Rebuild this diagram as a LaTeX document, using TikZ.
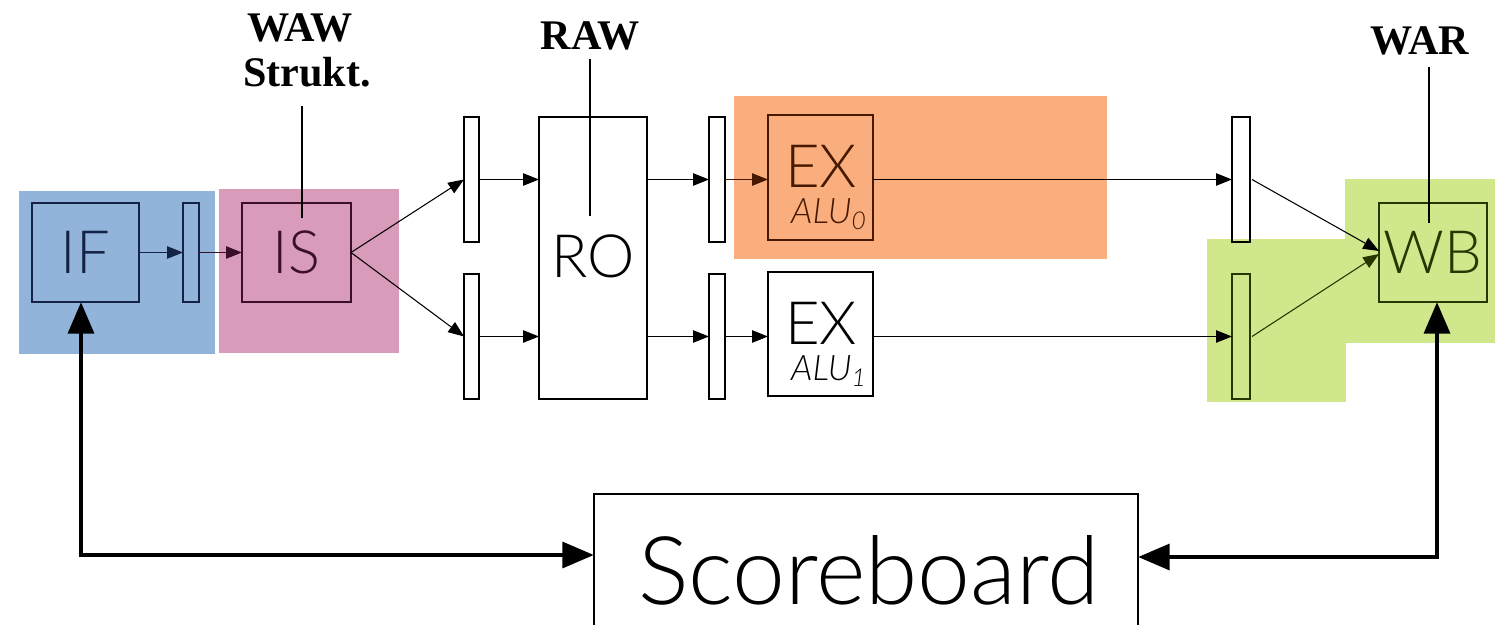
\documentclass[tikz,border=0pt]{standalone}
\usepackage{fontspec}
\usetikzlibrary{arrows.meta}
\IfFontExistsTF{Lato Light Italic}{%
  \newfontfamily\boxfont{Lato}[UprightFont=* Light, ItalicFont=* Light Italic]}{%
  \newfontfamily\boxfont{Lato}}
\newfontfamily\labfont{Liberation Serif}
\definecolor{bluebg}{RGB}{146,179,218}
\definecolor{pinkbg}{RGB}{216,155,185}
\definecolor{orangebg}{RGB}{250,174,126}
\definecolor{greenbg}{RGB}{208,231,140}
\definecolor{ifcol}{RGB}{20,35,70}
\definecolor{iscol}{RGB}{60,15,40}
\definecolor{excol}{RGB}{70,25,0}
\definecolor{wbcol}{RGB}{40,55,0}
\begin{document}
\begin{tikzpicture}[x=0.02cm,y=-0.02cm,
  blk/.style={draw, line width=0.6pt, inner sep=0pt, outer sep=0pt},
  sz/.style 2 args={minimum width=#1*0.02cm, minimum height=#2*0.02cm},
  big/.style={font=\boxfont\fontsize{34}{34}\selectfont},
  bigt/.style={font=\boxfont\fontsize{34}{34}\selectfont, inner sep=0pt},
  alu/.style={font=\boxfont\itshape\fontsize{20}{20}\selectfont, inner sep=0pt},
  lab/.style={font=\labfont\bfseries\fontsize{24}{24}\selectfont, inner sep=0pt},
  arr/.style={line width=0.6pt, -{Triangle[length=9pt,width=7pt]}},
  ann/.style={line width=0.9pt},
  bigarr/.style={line width=2.8pt, {Triangle[length=18pt,width=14.5pt]}-{Triangle[length=18pt,width=14.5pt]}}
]
\useasboundingbox (0,0) rectangle (1495,625);
% coloured backgrounds
\fill[bluebg] (19,191) rectangle (215,354);
\fill[pinkbg] (219,189) rectangle (399,353);
\fill[orangebg] (734,96) rectangle (1107,259);
\fill[greenbg] (1207,239) rectangle (1346,402);
\fill[greenbg] (1345,179) rectangle (1495,343);

% boxes
\node[blk, sz={107}{99}, draw=ifcol, text=ifcol, big] (IF) at (85.5,252.5) {IF};
\node[blk, sz={16}{99}, draw=ifcol] (reg0) at (191,252.5) {};
\node[blk, sz={109}{99}, draw=iscol, text=iscol, big] (IS) at (296.5,252.5) {IS};
\node[blk, sz={15}{125}] (r1u) at (471.5,179.5) {};
\node[blk, sz={15}{125}] (r1l) at (471.5,336.5) {};
\node[blk, sz={108}{282}] (RO) at (593,258) {};
\node[bigt] (rotext) at (593,256) {RO};
\node[blk, sz={16}{125}] (r2u) at (717,179.5) {};
\node[blk, sz={16}{125}] (r2l) at (717,336.5) {};
\node[blk, sz={105}{125}, draw=excol] (EX0) at (820.5,177.5) {};
\node[bigt, text=excol] (ex0t) at (821,166) {EX};
\node[alu, text=excol] (alu0) at (829,214) {ALU\textsubscript{0}};
\node[blk, sz={105}{124}] (EX1) at (820.5,334) {};
\node[bigt] (ex1t) at (821,323) {EX};
\node[alu] (alu1) at (829,371) {ALU\textsubscript{1}};
\node[blk, sz={18}{125}] (r3u) at (1241,179.5) {};
\node[blk, sz={18}{125}, draw=wbcol] (r3l) at (1241,336.5) {};
\node[blk, sz={108}{99}, draw=wbcol, text=wbcol, big] (WB) at (1433,252.5) {WB};
\node[blk, sz={544}{146}] (SB) at (866,567) {};
\node[font=\boxfont\fontsize{54}{54}\selectfont, inner sep=0pt] (sbt) at (869,570) {Scoreboard};

% hazard labels
\node[lab] (waw) at (300,28) {WAW};
\node[lab] (strukt) at (307,72) {Strukt.};
\node[lab] (raw) at (590,36) {RAW};
\node[lab] (war) at (1420,41) {WAR};
\coordinate (wawa) at (302,106);
\coordinate (wawb) at (302,218);
\coordinate (rawa) at (590,59);
\coordinate (rawb) at (590,216);
\coordinate (wara) at (1429,67);
\coordinate (warb) at (1429,223);
\draw[ann] (wawa) -- (wawb);
\draw[ann] (rawa) -- (rawb);
\draw[ann] (wara) -- (warb);

% thin connectors
\draw[arr, draw=ifcol, fill=ifcol] (IF.east) -- (reg0.west);
\draw[arr, draw=iscol, fill=iscol] (reg0.east) -- (IS.west);
\draw[arr] (IS.east) -- (r1u.west);
\draw[arr] (IS.east) -- (r1l.west);
\draw[arr] (r1u.east) -- (r1u.east -| RO.west);
\draw[arr] (r1l.east) -- (r1l.east -| RO.west);
\draw[arr] (RO.east |- r2u) -- (r2u.west);
\draw[arr] (RO.east |- r2l) -- (r2l.west);
\draw[arr, draw=excol, fill=excol] (r2u.east) -- (r2u.east -| EX0.west);
\draw[arr] (r2l.east) -- (r2l.east -| EX1.west);
\draw[arr] (EX0.east |- r3u) -- (r3u.west);
\draw[arr] (EX1.east |- r3l) -- (r3l.west);
\draw[arr] ([xshift=0.04cm]r3u.east) -- ([yshift=0.03cm]WB.west);
\draw[arr, draw=wbcol, fill=wbcol] ([xshift=0.04cm]r3l.east) -- ([yshift=-0.03cm]WB.west);

% thick connectors to scoreboard
\draw[bigarr] ([xshift=-0.09cm]IF.south) |- ([yshift=0.24cm]SB.west);
\draw[bigarr] ([xshift=0.08cm]WB.south) |- ([yshift=0.20cm]SB.east);
\end{tikzpicture}
\end{document}
